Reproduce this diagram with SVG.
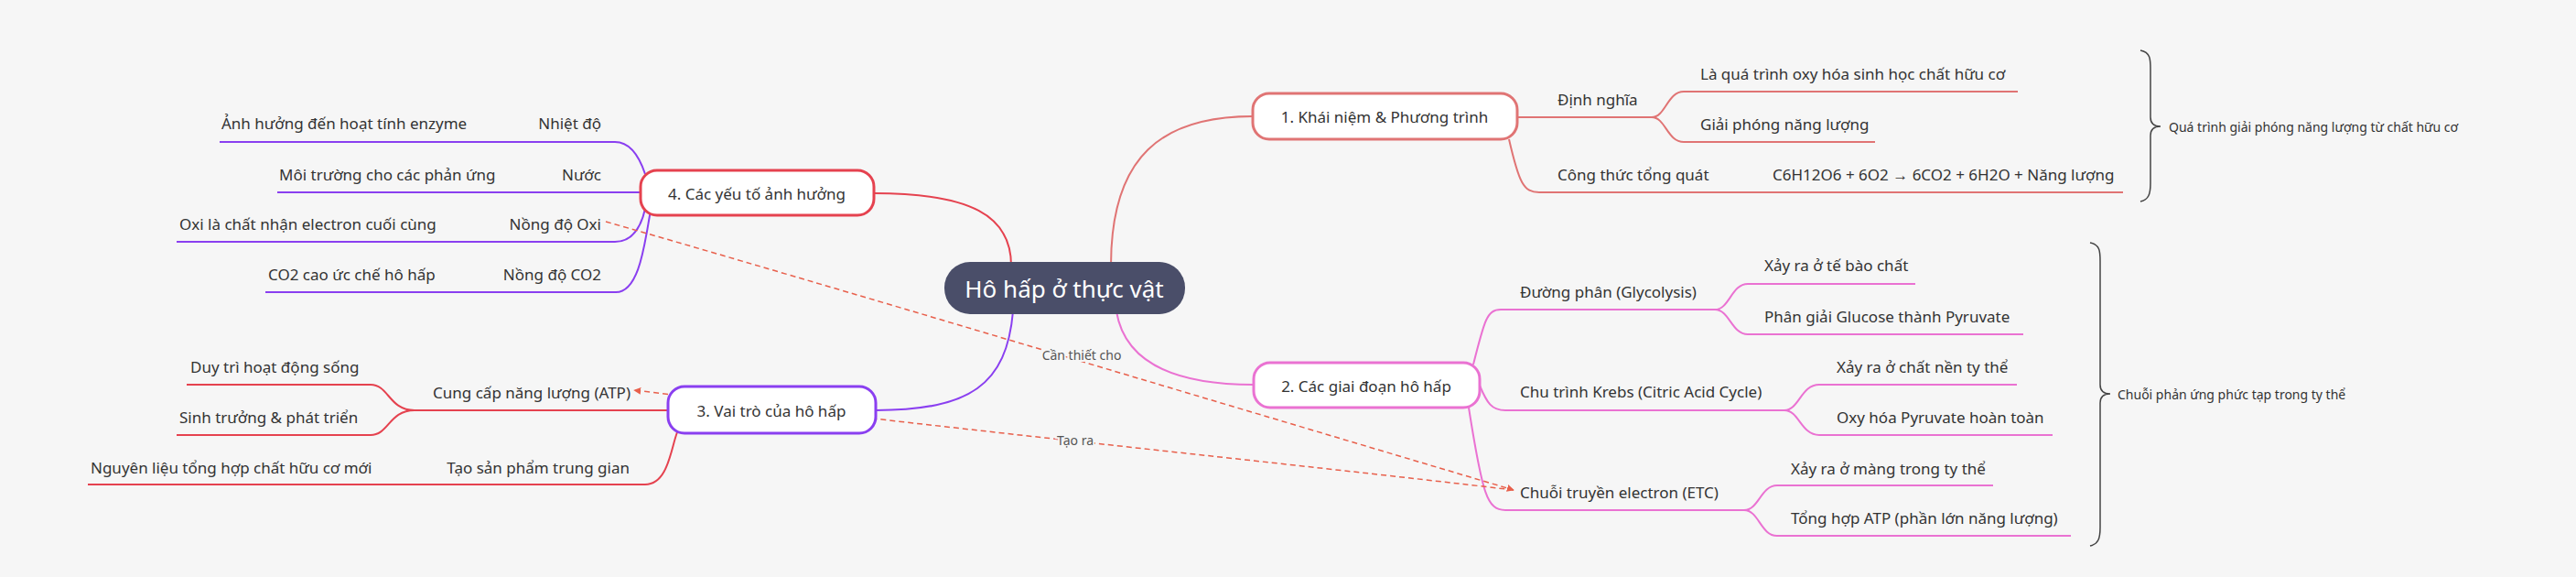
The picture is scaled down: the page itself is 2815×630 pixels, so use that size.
<svg xmlns="http://www.w3.org/2000/svg" width="2815" height="630" viewBox="0 0 2815 630">
<style>
text{font-family:"Noto Sans","Open Sans",sans-serif;fill:#333;font-size:17px;dominant-baseline:central}
.r{text-anchor:end}
.m{text-anchor:middle}
.node{fill:#fff;stroke-width:3}
.ln{fill:none;stroke-width:2}
.br{fill:none;stroke:#444;stroke-width:1.5}
.sm{font-size:14px}
.lbl{font-size:14px;fill:#555;paint-order:stroke;stroke:#f6f6f6;stroke-width:4px}
.dash{fill:none;stroke:#e8604c;stroke-width:1.5;stroke-dasharray:6 4}
</style>
<defs>
<marker id="ah" viewBox="0 0 10 10" refX="9" refY="5" markerWidth="8" markerHeight="8" orient="auto-start-reverse" markerUnits="userSpaceOnUse">
<path d="M0,0 L10,5 L0,10 z" fill="#e8604c"/>
</marker>
</defs>
<rect width="2815" height="630" fill="#f6f6f6"/>
<g id="connectors">
<path class="ln" stroke="#e5424f" stroke-width="5" d="M955,211 C1060,211 1105,235 1105,290"/>
<path class="ln" stroke="#e07474" stroke-width="5" d="M1214,290 C1214,170 1270,127 1369,127"/>
<path class="ln" stroke="#8a3ff0" stroke-width="5" d="M1107,340 C1100,420 1060,448 957,448"/>
<path class="ln" stroke="#ea72d2" stroke-width="5" d="M1220,340 C1230,400 1290,420 1370,420"/>
<!-- node 4 children -->
<path class="ln" stroke="#8a3ff0" d="M240,155 H672 C690,155 700,175 705,190"/>
<path class="ln" stroke="#8a3ff0" d="M303,210 H700"/>
<path class="ln" stroke="#8a3ff0" d="M193,264 H672 C690,264 700,250 705,228"/>
<path class="ln" stroke="#8a3ff0" d="M290,319 H673 C700,319 705,260 711,230"/>
<!-- node 3 children -->
<path class="ln" stroke="#e5424f" d="M730,448 H453"/>
<path class="ln" stroke="#e5424f" d="M453,448 C425,448 425,420 405,420 H204"/>
<path class="ln" stroke="#e5424f" d="M453,448 C425,448 425,475 405,475 H193"/>
<path class="ln" stroke="#e5424f" d="M96,529 H705 C730,529 733,490 740,472"/>
<!-- node 1 children -->
<path class="ln" stroke="#e07474" d="M1658,128 H1805"/>
<path class="ln" stroke="#e07474" d="M1805,128 C1820,128 1822,100 1840,100 H2205"/>
<path class="ln" stroke="#e07474" d="M1805,128 C1820,128 1822,155 1840,155 H2049"/>
<path class="ln" stroke="#e07474" d="M1649,152 C1660,200 1665,210 1682,210 H2320"/>
<!-- node 2 children -->
<path class="ln" stroke="#ea72d2" d="M1610,398 C1622,350 1625,338 1640,338 H1874"/>
<path class="ln" stroke="#ea72d2" d="M1874,338 C1890,338 1892,310 1910,310 H2093"/>
<path class="ln" stroke="#ea72d2" d="M1874,338 C1890,338 1892,365 1910,365 H2211"/>
<path class="ln" stroke="#ea72d2" d="M1617,421 C1625,440 1630,448 1645,448 H1950"/>
<path class="ln" stroke="#ea72d2" d="M1950,448 C1966,448 1968,420 1988,420 H2204"/>
<path class="ln" stroke="#ea72d2" d="M1950,448 C1966,448 1968,475 1988,475 H2243"/>
<path class="ln" stroke="#ea72d2" d="M1605,445 C1620,540 1625,557 1645,557 H1906"/>
<path class="ln" stroke="#ea72d2" d="M1906,557 C1922,557 1924,530 1942,530 H2178"/>
<path class="ln" stroke="#ea72d2" d="M1906,557 C1922,557 1924,585 1942,585 H2263"/>
<!-- braces -->
<path class="br" d="M2339,55 C2350,57 2350,65 2350,75 V128 Q2350,138 2361,138 Q2350,138 2350,148 V200 C2350,212 2348,218 2339,220"/>
<path class="br" d="M2284,265 C2295,267 2295,275 2295,285 V420 Q2295,430 2306,430 Q2295,430 2295,440 V576 C2295,588 2293,594 2284,596"/>
<!-- dashed relations -->
<path class="dash" marker-end="url(#ah)" d="M662,242 C900,310 1300,430 1654,535"/>
<path class="dash" marker-end="url(#ah)" d="M1654,535 C1400,505 1050,470 693,426"/>
</g>
<g id="center"><rect x="1032" y="286" width="263" height="57" rx="28" fill="#4a4e69"/><text x="1163" y="315" class="m" style="font-size:26px;fill:#fff">Hô hấp ở thực vật</text></g>
<g id="n1"><rect class="node" x="1369" y="102" width="289" height="50" rx="18" stroke="#e07474"/><text x="1513" y="127" class="m">1. Khái niệm &amp; Phương trình</text></g>
<g id="n2"><rect class="node" x="1370" y="396" width="247" height="49" rx="18" stroke="#ea72d2"/><text x="1493" y="421" class="m">2. Các giai đoạn hô hấp</text></g>
<g id="n3"><rect class="node" x="730" y="422" width="227" height="51" rx="18" stroke="#8a3ff0"/><text x="843" y="448" class="m">3. Vai trò của hô hấp</text></g>
<g id="n4"><rect class="node" x="700" y="186" width="255" height="49" rx="18" stroke="#e5424f"/><text x="827" y="211" class="m">4. Các yếu tố ảnh hưởng</text></g>
<g id="n4c">
<text x="657" y="134" class="r">Nhiệt độ</text><text x="242" y="134">Ảnh hưởng đến hoạt tính enzyme</text>
<text x="657" y="190" class="r">Nước</text><text x="305" y="190">Môi trường cho các phản ứng</text>
<text x="657" y="244" class="r">Nồng độ Oxi</text><text x="196" y="244">Oxi là chất nhận electron cuối cùng</text>
<text x="657" y="299" class="r">Nồng độ CO2</text><text x="293" y="299">CO2 cao ức chế hô hấp</text>
</g>
<g id="n3c">
<text x="689" y="428" class="r">Cung cấp năng lượng (ATP)</text>
<text x="208" y="400">Duy trì hoạt động sống</text>
<text x="196" y="455">Sinh trưởng &amp; phát triển</text>
<text x="688" y="510" class="r">Tạo sản phẩm trung gian</text>
<text x="99" y="510">Nguyên liệu tổng hợp chất hữu cơ mới</text>
</g>
<g id="n1c">
<text x="1702" y="108">Định nghĩa</text>
<text x="1858" y="80">Là quá trình oxy hóa sinh học chất hữu cơ</text>
<text x="1858" y="135">Giải phóng năng lượng</text>
<text x="1702" y="190">Công thức tổng quát</text>
<text x="1937" y="190">C6H12O6 + 6O2 → 6CO2 + 6H2O + Năng lượng</text>
<text x="2370" y="138" class="sm">Quá trình giải phóng năng lượng từ chất hữu cơ</text>
</g>
<g id="n2c">
<text x="1661" y="318">Đường phân (Glycolysis)</text>
<text x="1928" y="289">Xảy ra ở tế bào chất</text>
<text x="1928" y="345">Phân giải Glucose thành Pyruvate</text>
<text x="1661" y="427">Chu trình Krebs (Citric Acid Cycle)</text>
<text x="2007" y="400">Xảy ra ở chất nền ty thể</text>
<text x="2007" y="455">Oxy hóa Pyruvate hoàn toàn</text>
<text x="1661" y="537">Chuỗi truyền electron (ETC)</text>
<text x="1957" y="511">Xảy ra ở màng trong ty thể</text>
<text x="1957" y="565">Tổng hợp ATP (phần lớn năng lượng)</text>
<text x="2314" y="430" class="sm">Chuỗi phản ứng phức tạp trong ty thể</text>
</g>
<g id="labels">
<text x="1182" y="387" class="lbl m">Cần thiết cho</text>
<text x="1175" y="480" class="lbl m">Tạo ra</text>
</g>
</svg>
